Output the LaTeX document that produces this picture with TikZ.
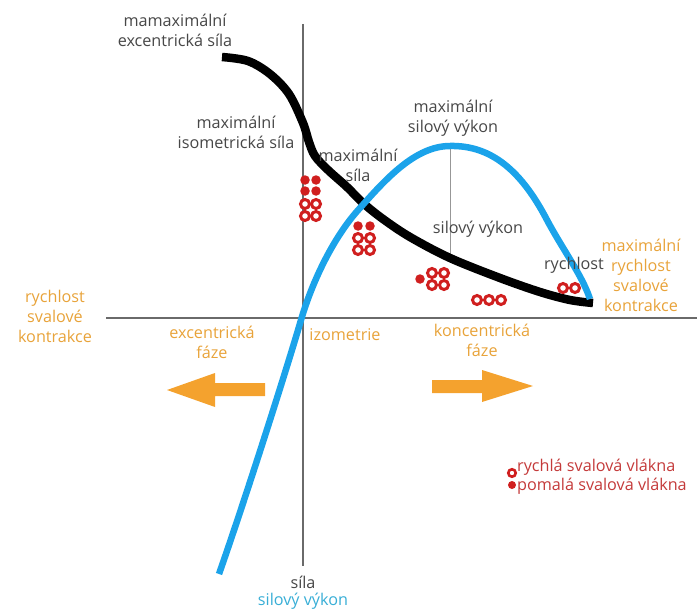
\documentclass[tikz,border=0pt]{standalone}
\usepackage{fontspec}
\setmainfont{Open Sans}
\definecolor{txtgray}{HTML}{474747}
\definecolor{txtorange}{HTML}{E8A33A}
\definecolor{arrorange}{HTML}{F4A22E}
\definecolor{fibred}{HTML}{D01F1F}
\definecolor{curveblue}{HTML}{1BA3EA}
\definecolor{txtblue}{HTML}{38AED6}
\definecolor{legred}{HTML}{C43A3A}
\definecolor{axisgray}{HTML}{6A6A6A}
\tikzset{
  lbl/.style={font=\fontsize{16.2}{20}\selectfont, text=txtgray, align=center, inner sep=0pt},
  olbl/.style={lbl, text=txtorange},
  fast/.style={draw=fibred, line width=3pt, fill=white, circle, minimum size=9pt, inner sep=0pt},
  slow/.style={fill=fibred, circle, minimum size=9.5pt, inner sep=0pt},
}
\begin{document}
\begin{tikzpicture}[x=1pt,y=-1pt]
\useasboundingbox (0,0) rectangle (697,610);
% axes
\draw[axisgray, line width=1.3pt] (303,24) -- (303,566);
\draw[axisgray, line width=1.3pt] (106,318) -- (697,318);
% thin line at max power
\draw[axisgray!70, line width=0.8pt] (450,146) -- (450,262);
% force curve
\draw[black, line width=8.5pt] plot[smooth, tension=0.55] coordinates {
 (222,57) (248,61) (270,74) (289,94) (303,123) (309,142) (315,156) (328,170) (347,187) (363,203) (383,219) (410,237) (450,258) (500,278) (540,292) (570,300) (593,303)};
% power curve
\draw[curveblue, line width=6.5pt] (219,574)
  .. controls (245,500) and (287,368) .. (301,320)
  .. controls (313,279) and (335,235) .. (360,208)
  .. controls (385,180) and (415,146) .. (450,146)
  .. controls (492,145) and (522,172) .. (547,220)
  .. controls (563,250) and (582,275) .. (590,299);
% fibres
\foreach \x/\y/\s in {305/180/slow,316/180/slow,305/191/slow,316/191/slow,
  305/204/fast,316/204/fast,305/216/fast,316/216/fast,
  358/226/slow,370/226/slow,358/238/fast,370/238/fast,358/250/fast,370/250/fast,
  420/279/slow,432/273/fast,444/273/fast,432/285/fast,444/285/fast,
  477/300/fast,489/300/fast,501/300/fast,
  563/288/fast,575/288/fast}
  \node[\s] at (\x,\y) {};
% arrows
\fill[arrorange] (265,383) -- (215,383) -- (215,373) -- (167,390) -- (215,407) -- (215,396) -- (265,396) -- cycle;
\fill[arrorange] (432,380) -- (482,380) -- (482,370) -- (533,386) -- (482,402) -- (482,393) -- (432,393) -- cycle;
% labels
\node[lbl] (l1) at (175,30) {mamaximální\\excentrická síla};
\node[lbl] (l2) at (236,132) {maximální\\isometrická síla};
\node[lbl] (l3) at (358,165) {maximální\\síla};
\node[lbl] (l4) at (453,118) {maximální\\silový výkon};
\node[lbl] (l5) at (478,229) {silový výkon};
\node[lbl] (l6) at (574,265) {rychlost};
\node[olbl] (r1) at (641,275) {maximální\\rychlost\\svalové\\kontrakce};
\node[olbl] (r2) at (55,316) {rychlost\\svalové\\kontrakce};
\node[olbl] (r3) at (212,342) {excentrická\\fáze};
\node[olbl] (r4) at (345,335) {izometrie};
\node[olbl] (r5) at (482,340) {koncentrická\\fáze};
\node[lbl] (b1) at (303,582) {síla};
\node[lbl, text=txtblue] (b2) at (303,601) {silový výkon};
% legend
\node[fast, minimum size=7.5pt, line width=2.6pt] (k1) at (512,473) {};
\node[slow, minimum size=8pt] (k2) at (512,485) {};
\node[lbl, text=legred, anchor=west] (t1) at (517,467) {rychlá svalová vlákna};
\node[lbl, text=legred, anchor=west] (t2) at (517,486) {pomalá svalová vlákna};
\end{tikzpicture}
\end{document}
